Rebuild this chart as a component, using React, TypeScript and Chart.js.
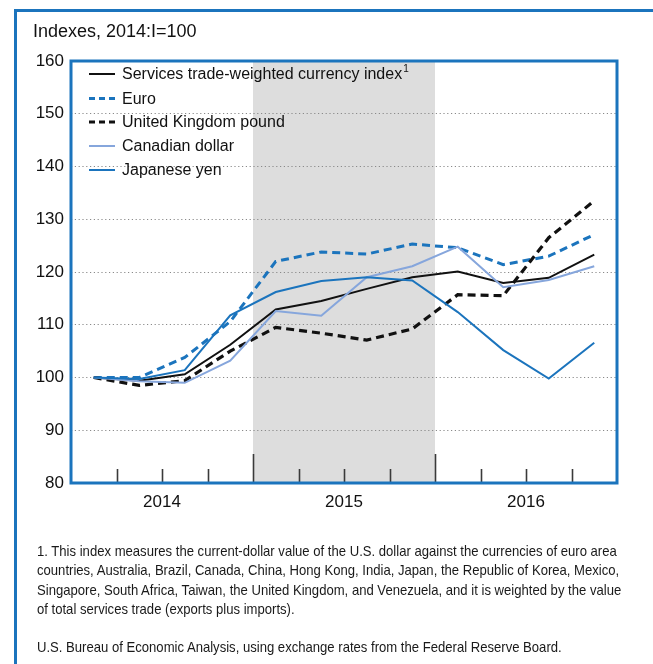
import React, { useEffect, useRef, useMemo } from "react";
import { Chart, registerables } from "chart.js";
Chart.register(...registerables);

const quarters = [
  "2014:I", "2014:II", "2014:III", "2014:IV",
  "2015:I", "2015:II", "2015:III", "2015:IV",
  "2016:I", "2016:II", "2016:III", "2016:IV",
];
const services = [100, 99.4, 100.6, 106.2, 112.9, 114.5, 116.8, 119.0, 120.1, 117.9, 118.9, 123.3];
const euro = [100, 100.0, 103.8, 110.6, 122.0, 123.8, 123.4, 125.3, 124.6, 121.4, 123.0, 127.1];
const ukPound = [100, 98.5, 99.4, 105.0, 109.5, 108.4, 107.1, 109.2, 115.7, 115.5, 126.5, 133.5];
const canadian = [100, 99.3, 99.0, 103.2, 112.6, 111.7, 119.0, 121.1, 124.8, 117.1, 118.5, 121.1];
const yen = [100, 99.7, 101.4, 111.8, 116.2, 118.3, 119.0, 118.4, 112.4, 105.2, 99.8, 106.6];

const seriesNames = [
  "Services trade-weighted currency index",
  "Euro",
  "United Kingdom pound",
  "Canadian dollar",
  "Japanese yen",
];
const shadeFrom = "2015:I";
const shadeTo = "2015:IV";
const yMin = 80;
const yMax = 160;
const yStep = 10;

const unitLabel = "Indexes, 2014:I=100";
const footnoteLines = [
  "1. This index measures the current-dollar value of the U.S. dollar against the currencies of euro area",
  "countries, Australia, Brazil, Canada, China, Hong Kong, India, Japan, the Republic of Korea, Mexico,",
  "Singapore, South Africa, Taiwan, the United Kingdom, and Venezuela, and it is weighted by the value",
  "of total services trade (exports plus imports).",
];
const sourceLine = "U.S. Bureau of Economic Analysis, using exchange rates from the Federal Reserve Board.";

const BLUE = "#1b74bd";
const LIGHT = "#86a6dc";
const FONT = "'Liberation Sans', Arial, sans-serif";

const styles = [
  { color: "#111111", width: 2, dash: [] as number[] },
  { color: BLUE, width: 3, dash: [8, 5] },
  { color: "#111111", width: 3.2, dash: [8, 5] },
  { color: LIGHT, width: 2, dash: [] as number[] },
  { color: BLUE, width: 2, dash: [] as number[] },
];

const decor = {
  id: "decor",
  beforeDraw(chart: any) {
    const { ctx, chartArea: a, scales } = chart;
    const x = scales.x;
    const half = (x.getPixelForValue(1) - x.getPixelForValue(0)) / 2;
    const i0 = quarters.indexOf(shadeFrom);
    const i1 = quarters.indexOf(shadeTo);
    const x0 = x.getPixelForValue(i0) - half;
    const x1 = x.getPixelForValue(i1) + half;
    ctx.save();
    ctx.fillStyle = "#dddddd";
    ctx.fillRect(x0, a.top, x1 - x0, a.bottom - a.top);
    ctx.restore();
  },
  afterDraw(chart: any) {
    const { ctx, chartArea: a, scales } = chart;
    const x = scales.x;
    const half = (x.getPixelForValue(1) - x.getPixelForValue(0)) / 2;
    ctx.save();
    // quarter tick marks (inside, upward)
    ctx.strokeStyle = "#3a3a3a";
    ctx.lineWidth = 1.6;
    for (let i = 1; i < quarters.length; i++) {
      const px = Math.round(x.getPixelForValue(i) - half) + 0.5;
      const len = i % 4 === 0 ? 29 : 14;
      ctx.beginPath();
      ctx.moveTo(px, a.bottom);
      ctx.lineTo(px, a.bottom - len);
      ctx.stroke();
    }
    // plot box
    ctx.strokeStyle = BLUE;
    ctx.lineWidth = 3;
    ctx.strokeRect(a.left, a.top, a.right - a.left, a.bottom - a.top);
    // outer frame
    ctx.fillStyle = BLUE;
    ctx.fillRect(14, 9, 3, 700);
    ctx.fillRect(14, 9, 700, 3);
    // legend
    const lx0 = 89, lx1 = 115, tx = 122;
    const ys = [74, 98.5, 122, 146, 170];
    ctx.font = `16px ${FONT}`;
    ctx.textBaseline = "middle";
    ctx.textAlign = "left";
    seriesNames.forEach((name, i) => {
      const s = styles[i];
      ctx.strokeStyle = s.color;
      ctx.lineWidth = s.width;
      ctx.setLineDash(s.dash.length ? [6, 4] : []);
      ctx.beginPath();
      ctx.moveTo(lx0, ys[i]);
      ctx.lineTo(lx1, ys[i]);
      ctx.stroke();
      ctx.setLineDash([]);
      ctx.fillStyle = "#111";
      ctx.fillText(name, tx, ys[i] + 1);
      if (i === 0) {
        const w = ctx.measureText(name).width;
        ctx.font = `10px ${FONT}`;
        ctx.fillText("1", tx + w + 1, ys[i] - 5);
        ctx.font = `16px ${FONT}`;
      }
    });
    ctx.restore();
  },
};

export default function App() {
  const ref = useRef<HTMLCanvasElement>(null);

  const k = useMemo(() => {
    try {
      const c = document.createElement("canvas").getContext("2d")!;
      c.font = `14.5px ${FONT}`;
      const w = c.measureText(footnoteLines[0]).width;
      return 580 / w;
    } catch {
      return 0.85;
    }
  }, []);

  useEffect(() => {
    if (!ref.current) return;
    Chart.defaults.font.family = FONT;
    const chart = new Chart(ref.current, {
      type: "line",
      data: {
        labels: quarters,
        datasets: [services, euro, ukPound, canadian, yen].map((d, i) => ({
          label: seriesNames[i],
          data: d,
          borderColor: styles[i].color,
          borderWidth: styles[i].width,
          borderDash: styles[i].dash,
          pointRadius: 0,
          tension: 0,
          fill: false,
        })).reverse(),
      },
      options: {
        animation: false,
        responsive: false,
        devicePixelRatio: 1,
        layout: { padding: { left: 21, top: 61, right: 36, bottom: 141 } },
        plugins: { legend: { display: false }, tooltip: { enabled: false } },
        scales: {
          x: {
            type: "category",
            offset: true,
            grid: { display: false, drawTicks: false },
            border: { display: false },
            afterFit: (s: any) => { s.height = 40; },
            ticks: {
              autoSkip: false,
              maxRotation: 0,
              padding: 9,
              labelOffset: 22.75,
              color: "#111",
              font: { size: 17 },
              callback: (_v: any, i: number) => (i % 4 === 1 ? quarters[i].slice(0, 4) : ""),
            },
          },
          y: {
            min: yMin,
            max: yMax,
            afterFit: (s: any) => { s.width = 50; },
            border: { display: false },
            grid: {
              drawTicks: false,
              color: (c: any) => (c.tick && (c.tick.value === yMin || c.tick.value === yMax) ? "rgba(0,0,0,0)" : "#8a8a8a"),
              lineWidth: 1,
            },
            ticks: {
              stepSize: yStep,
              padding: 7,
              color: "#111",
              font: { size: 17 },
            },
          },
        },
      },
      plugins: [decor],
    } as any);
    // dotted grid
    (chart.options.scales as any).y.border = { display: false, dash: [1.2, 2.6] };
    chart.update();
    return () => chart.destroy();
  }, []);

  const footStyle = (top: number): React.CSSProperties => ({
    position: "absolute",
    left: 37,
    top,
    whiteSpace: "nowrap",
    font: `14.5px ${FONT}`,
    lineHeight: "18px",
    color: "#1a1a1a",
    transform: `scaleX(${k})`,
    transformOrigin: "left top",
  });

  return (
    <div style={{ position: "absolute", left: 0, top: 0, width: 653, height: 664, background: "#fff", overflow: "hidden" }}>
      <canvas ref={ref} width={653} height={664} style={{ position: "absolute", left: 0, top: 0 }} />
      <div style={{ position: "absolute", left: 33, top: 20, font: `18px ${FONT}`, lineHeight: "22px", color: "#111", whiteSpace: "nowrap" }}>
        {unitLabel}
      </div>
      {footnoteLines.map((t, i) => (
        <div key={i} style={footStyle(542 + i * 19.3)}>{t}</div>
      ))}
      <div style={footStyle(638)}>{sourceLine}</div>
    </div>
  );
}
